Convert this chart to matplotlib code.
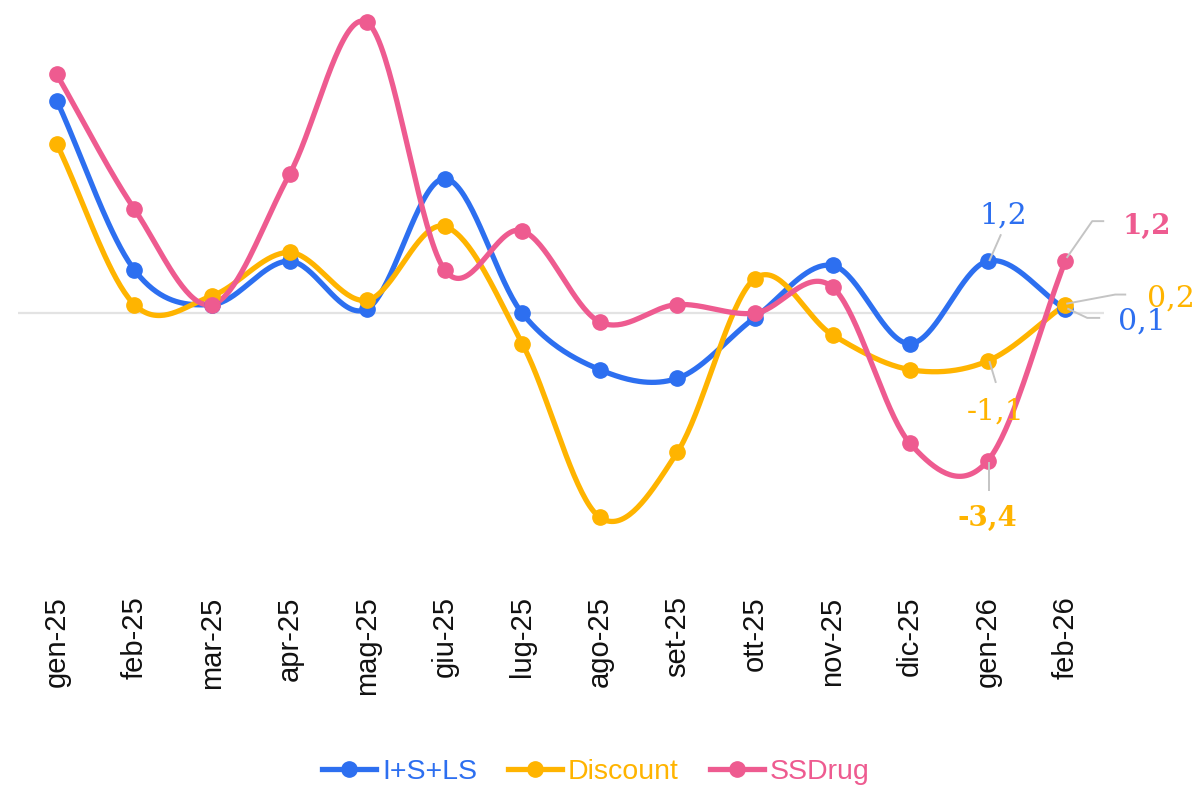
import numpy as np
import matplotlib.pyplot as plt
from matplotlib.lines import Line2D

# mesi e variazioni per canale
mesi = ['gen-25', 'feb-25', 'mar-25', 'apr-25', 'mag-25', 'giu-25', 'lug-25',
        'ago-25', 'set-25', 'ott-25', 'nov-25', 'dic-25', 'gen-26', 'feb-26']
iper = [4.9, 1.0, 0.2, 1.2, 0.1, 3.1, 0.0, -1.3, -1.5, -0.1, 1.1, -0.7, 1.2, 0.1]
discount = [3.9, 0.2, 0.4, 1.4, 0.3, 2.0, -0.7, -4.7, -3.2, 0.8, -0.5, -1.3, -1.1, 0.2]
ssdrug = [5.5, 2.4, 0.2, 3.2, 6.7, 1.0, 1.9, -0.2, 0.2, 0.0, 0.6, -3.0, -3.4, 1.2]

nomi = ['I+S+LS', 'Discount', 'SSDrug']
colori = ['#2D6FF0', '#FFB400', '#EE5B90']
serie = [iper, discount, ssdrug]


def smooth(y, n=40):
    # curva cardinale (catmull-rom) tra i punti
    y = np.asarray(y, float)
    m = np.zeros_like(y)
    m[1:-1] = (y[2:] - y[:-2]) / 2
    m[0] = y[1] - y[0]
    m[-1] = y[-1] - y[-2]
    t = np.linspace(0, 1, n)
    h00 = 2 * t**3 - 3 * t**2 + 1
    h10 = t**3 - 2 * t**2 + t
    h01 = -2 * t**3 + 3 * t**2
    h11 = t**3 - t**2
    xs, ys = [], []
    for i in range(len(y) - 1):
        xs.append(i + t)
        ys.append(h00 * y[i] + h10 * m[i] + h01 * y[i + 1] + h11 * m[i + 1])
    return np.concatenate(xs), np.concatenate(ys)


fig = plt.figure(figsize=(11.99, 7.86), dpi=100)
ax = fig.add_axes([18 / 1199, 1 - 586.7 / 786, 1086 / 1199, 586 / 786])
ax.set_xlim(-0.5, 13.5)
ax.set_ylim(-6.3, 7.2)
ax.axhline(0, color='#e3e3e3', lw=1.6, zorder=1)

x = np.arange(len(mesi))
for vals, col in zip(serie, colori):
    sx, sy = smooth(vals)
    ax.plot(sx, sy, color=col, lw=3.8, solid_capstyle='round', zorder=2, clip_on=False)
    ax.plot(x, vals, 'o', color=col, ms=11, zorder=3, clip_on=False)

for s in ax.spines.values():
    s.set_visible(False)
ax.set_yticks([])
ax.set_xticks(x)
ax.set_xticklabels(mesi, rotation=90, fontsize=21, family='Liberation Sans', color='#111111')
ax.tick_params(axis='x', length=0, pad=7)


def off(i, v, dx, dy):
    # spostamento in pixel rispetto al punto (dy verso il basso)
    px, py = ax.transData.transform((i, v))
    return ax.transData.inverted().transform((px + dx, py - dy))


# etichette con linee guida: (serie, indice, testo, colore, grassetto, guida, pos. testo)
etichette = [
    (iper, 12, '1,2', colori[0], False, [(2, -1), (13, -26)], (16, -46)),
    (ssdrug, 13, '1,2', colori[2], True, [(2, -4), (27, -40), (38, -40)], (82, -35)),
    (discount, 13, '0,2', colori[1], False, [(2, -1), (50, -10), (60, -10)], (106, -6)),
    (iper, 13, '0,1', colori[0], False, [(3, 0), (22, 9), (34, 9)], (77, 13)),
    (discount, 12, '-1,1', colori[1], False, [(2, 1), (8, 21)], (8, 51)),
    (ssdrug, 12, '-3,4', colori[1], True, [(1, 2), (1, 29)], (0, 58)),
]
for vals, i, testo, col, bold, guida, pos in etichette:
    pts = np.array([off(i, vals[i], dx, dy) for dx, dy in guida])
    ax.plot(pts[:, 0], pts[:, 1], color='#c4c4c4', lw=1.4, zorder=4, clip_on=False)
    tx, ty = off(i, vals[i], *pos)
    ax.text(tx, ty, testo, color=col, fontsize=20 if bold else 21.5, family='DejaVu Serif',
            fontweight='bold' if bold else 'medium', ha='center', va='center',
            zorder=5, clip_on=False)

handles = [Line2D([], [], color=c, lw=3.8, marker='o', ms=11) for c in colori]
leg = fig.legend(handles, nomi, loc='center', bbox_to_anchor=(596 / 1199, 1 - 772 / 786),
                 ncol=3, frameon=False, handlelength=1.9, handletextpad=0.2,
                 columnspacing=1.1, prop={'family': 'Liberation Sans', 'size': 20.5})
for t, c in zip(leg.get_texts(), colori):
    t.set_color(c)

fig.savefig('out.png', dpi=100)
